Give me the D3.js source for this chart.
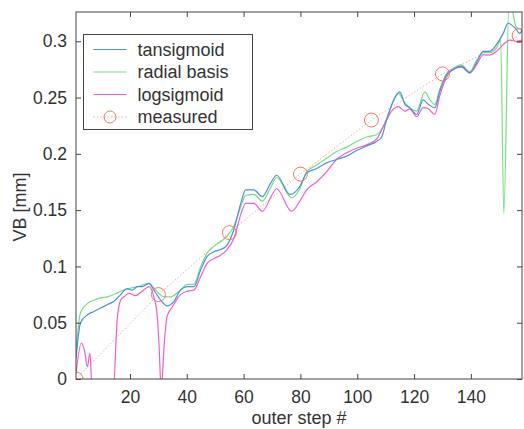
<!DOCTYPE html>
<html>
<head>
<meta charset="utf-8">
<script src="https://cdn.jsdelivr.net/npm/d3@7"></script>
<style>
  body { margin: 0; background: #fff; }
  svg { display: block; font-family: "Liberation Sans", Arial, sans-serif; }
</style>
</head>
<body>
<svg id="chart" width="524" height="429"></svg>
<script>
// outer step # readings per series
const tansigSteps = [1, 2.6, 5, 7.3, 9.7, 12, 14.4, 16.7, 19, 20.8, 22.6, 24.3, 26.7, 28.4, 30.8, 33.1, 35.5, 37.8, 40.2, 42.5,
  44.9, 47.2, 49.6, 51.9, 54.2, 56.6, 59, 60.7, 63.6, 66.6, 69.5, 71.6, 76.3, 79.8, 82.2, 85.7, 89.2, 92.7, 96.3, 99.8,
  103.3, 106.8, 108.6, 110.3, 112.7, 115, 116.8, 118.5, 120.9, 123.2, 125, 127.3, 129, 131.4, 133.8, 136.7, 139.6, 142, 144.3, 146.7,
  149, 151.4, 153.1, 155.5, 157.2, 158];
const tansigVB = [0.018, 0.05, 0.057, 0.060, 0.063, 0.066, 0.069, 0.075, 0.080, 0.079, 0.082, 0.082, 0.085, 0.079, 0.070, 0.065, 0.069, 0.079, 0.082, 0.082,
  0.097, 0.109, 0.113, 0.115, 0.119, 0.133, 0.156, 0.168, 0.168, 0.162, 0.174, 0.181, 0.164, 0.171, 0.183, 0.187, 0.192, 0.195, 0.198, 0.203,
  0.207, 0.211, 0.215, 0.230, 0.247, 0.255, 0.244, 0.241, 0.235, 0.248, 0.244, 0.241, 0.255, 0.270, 0.275, 0.278, 0.272, 0.281, 0.291, 0.291,
  0.297, 0.307, 0.316, 0.312, 0.307, 0.310];

const radialSteps = [1, 2.6, 5, 7.3, 9.7, 12, 14.4, 16.7, 19, 22.6, 26.7, 29, 32, 34.3, 37.8, 40.2, 42.5, 44.9, 47.2, 49.6,
  51.9, 54.2, 56.6, 59, 60.7, 63.6, 66.6, 69.5, 71.6, 76.9, 79.8, 82.2, 85.7, 89.2, 92.7, 96.3, 99.8, 103.3, 106.8, 109.1,
  111.5, 114.4, 116.8, 118.5, 120.9, 123.8, 125.6, 127.3, 129, 131.4, 133.8, 136.7, 139.6, 142, 144.3, 146.7, 149, 150.5, 151.6, 153.5,
  155.9, 158];
const radialVB = [0.026, 0.059, 0.067, 0.070, 0.072, 0.073, 0.075, 0.078, 0.080, 0.082, 0.085, 0.079, 0.073, 0.073, 0.079, 0.084, 0.084, 0.100, 0.112, 0.118,
  0.122, 0.127, 0.136, 0.153, 0.163, 0.164, 0.158, 0.170, 0.179, 0.161, 0.169, 0.184, 0.190, 0.196, 0.202, 0.206, 0.211, 0.215, 0.217, 0.224,
  0.239, 0.254, 0.245, 0.241, 0.238, 0.255, 0.248, 0.244, 0.257, 0.271, 0.276, 0.279, 0.273, 0.283, 0.290, 0.290, 0.294, 0.301, 0.147, 0.340,
  0.313, 0.310];

const logsigSteps = [1, 2.9, 4, 5, 5.9, 6.7, 14.1, 15.5, 16.7, 17.9, 19.6, 22, 24.3, 26.7, 28.4, 29.6, 30.2, 31, 32, 33.1,
  34.9, 37.8, 40.2, 42.5, 44.9, 47.2, 49.6, 51.9, 54.2, 56.6, 59, 60.7, 63.6, 66.6, 70.1, 71.6, 76.9, 79.8, 82.2, 85.7,
  89.2, 92.7, 96.3, 99.8, 103.3, 106.8, 109.7, 112.1, 114.4, 116.8, 118.5, 120.9, 123.2, 125, 127.3, 129, 131.4, 133.8, 136.7, 139.6,
  142, 144.3, 146.7, 149, 151.4, 153.7, 156, 158];
const logsigVB = [0.005, 0.032, 0.025, 0.011, 0.023, -0.01, -0.01, 0.053, 0.070, 0.073, 0.076, 0.074, 0.078, 0.082, 0.073, 0.056, 0.032, -0.01, 0.029, 0.056,
  0.064, 0.075, 0.078, 0.079, 0.091, 0.103, 0.107, 0.110, 0.115, 0.125, 0.146, 0.156, 0.156, 0.149, 0.164, 0.169, 0.149, 0.158, 0.168, 0.175,
  0.184, 0.195, 0.201, 0.205, 0.208, 0.213, 0.227, 0.238, 0.242, 0.238, 0.240, 0.233, 0.241, 0.240, 0.235, 0.251, 0.268, 0.275, 0.277, 0.272,
  0.279, 0.288, 0.288, 0.291, 0.297, 0.301, 0.300, 0.301];

const measuredSteps = [1, 30, 55, 80, 105, 130, 157];
const measuredVB = [0, 0.075, 0.13, 0.182, 0.23, 0.271, 0.305];

const xTicks = [20, 40, 60, 80, 100, 120, 140];
const yTicks = [0, 0.05, 0.1, 0.15, 0.2, 0.25, 0.3];

const seriesNames = ['tansigmoid', 'radial basis', 'logsigmoid', 'measured'];
const seriesColors = ['#4f8fdb', '#78de84', '#f060cc', '#f07a66'];

const margin = { top: 12, right: 2, bottom: 50, left: 76 };
const W = 524, H = 429;
const width = W - margin.left - margin.right;
const height = H - margin.top - margin.bottom;

const svg = d3.select('#chart');
const plot = svg.append('g').attr('transform', `translate(${margin.left},${margin.top})`);

const x = d3.scaleLinear().domain([1, 158]).range([0, width]);
const y = d3.scaleLinear().domain([0, 0.326]).range([height, 0]);

plot.append('clipPath').attr('id', 'clip')
  .append('rect').attr('width', width).attr('height', height);

const line = d3.line().x(d => x(d[0])).y(d => y(d[1])).curve(d3.curveMonotoneX);
const straight = d3.line().x(d => x(d[0])).y(d => y(d[1]));
const pairs = (s, v) => s.map((d, i) => [d, v[i]]);

const lines = plot.append('g').attr('clip-path', 'url(#clip)').attr('fill', 'none');

// measured: dotted guide plus circle markers
lines.append('path')
  .attr('d', straight(pairs(measuredSteps, measuredVB)))
  .attr('stroke', '#f5a8a8')
  .attr('stroke-width', 1)
  .attr('stroke-dasharray', '1.5,2');

[[radialSteps, radialVB, 1], [logsigSteps, logsigVB, 2], [tansigSteps, tansigVB, 0]].forEach(([s, v, c]) => {
  lines.append('path')
    .attr('d', line(pairs(s, v)))
    .attr('stroke', seriesColors[c])
    .attr('stroke-width', 1.2)
    .attr('stroke-linejoin', 'round');
});

lines.selectAll('circle')
  .data(pairs(measuredSteps, measuredVB))
  .enter().append('circle')
  .attr('cx', d => x(d[0]))
  .attr('cy', d => y(d[1]))
  .attr('r', 7)
  .attr('stroke', seriesColors[3])
  .attr('stroke-width', 1);

// axes, ticks pointing inward on all four sides
const axisColor = '#444';
const xAxis = plot.append('g').attr('transform', `translate(0,${height})`)
  .call(d3.axisBottom(x).tickValues(xTicks).tickSizeInner(-5).tickSizeOuter(0).tickPadding(12));
const xTop = plot.append('g')
  .call(d3.axisTop(x).tickValues(xTicks).tickSizeInner(-5).tickSizeOuter(0).tickFormat(''));
const yAxis = plot.append('g')
  .call(d3.axisLeft(y).tickValues(yTicks).tickSizeInner(-5).tickSizeOuter(0).tickPadding(9).tickFormat(d3.format('')));
const yRight = plot.append('g').attr('transform', `translate(${width},0)`)
  .call(d3.axisRight(y).tickValues(yTicks).tickSizeInner(-5).tickSizeOuter(0).tickFormat(''));

[xAxis, xTop, yAxis, yRight].forEach(g => {
  g.select('.domain').remove();
  g.selectAll('line').attr('stroke', axisColor);
  g.selectAll('text').attr('fill', '#333').style('font-size', '17.5px').style('font-family', '"Liberation Sans", Arial, sans-serif');
});

plot.append('rect')
  .attr('width', width).attr('height', height)
  .attr('fill', 'none').attr('stroke', axisColor).attr('stroke-width', 1);

svg.append('text')
  .attr('x', margin.left + width / 2).attr('y', 424)
  .attr('text-anchor', 'middle').attr('fill', '#333')
  .style('font-size', '18px')
  .text('outer step #');

svg.append('text')
  .attr('transform', `translate(26,207) rotate(-90)`)
  .attr('text-anchor', 'middle').attr('fill', '#333')
  .style('font-size', '18px')
  .text('VB [mm]');

// legend
const legend = svg.append('g').attr('transform', 'translate(83.5,34.5)');
legend.append('rect')
  .attr('width', 169).attr('height', 95)
  .attr('fill', '#fff').attr('stroke', axisColor);

seriesNames.forEach((name, i) => {
  const row = legend.append('g').attr('transform', `translate(0,${15 + i * 22.5})`);
  row.append('line')
    .attr('x1', 10).attr('x2', 43)
    .attr('stroke', i === 3 ? '#f5a8a8' : seriesColors[i])
    .attr('stroke-width', 1.2)
    .attr('stroke-dasharray', i === 3 ? '1.5,2' : null);
  if (i === 3) {
    row.append('circle').attr('cx', 26.5).attr('r', 6)
      .attr('fill', 'none').attr('stroke', seriesColors[3]);
  }
  row.append('text')
    .attr('x', 54).attr('dy', '0.35em')
    .attr('fill', '#333')
    .style('font-size', '18px')
    .text(name);
});
</script>
</body>
</html>
